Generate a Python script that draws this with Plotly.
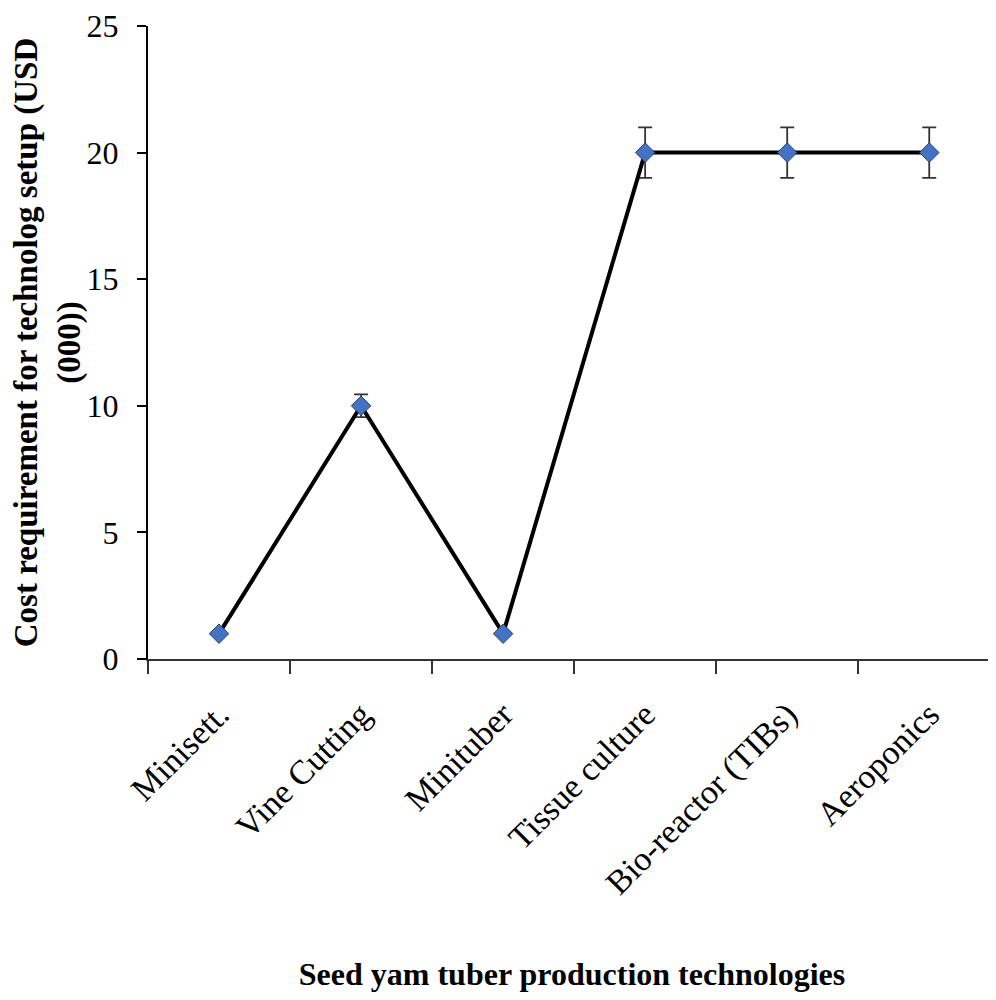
import plotly.graph_objects as go

categories = ["Minisett.", "Vine Cutting", "Minituber", "Tissue culture",
              "Bio-reactor (TIBs)", "Aeroponics"]
cost_values = [1, 10, 1, 20, 20, 20]
error_values = [0, 0.45, 0, 1, 1, 1]
y_ticks = [0, 5, 10, 15, 20, 25]

serif = "Liberation Serif, Times New Roman, serif"

fig = go.Figure()
fig.add_trace(go.Scatter(
    x=categories, y=cost_values,
    mode="lines+markers",
    line=dict(color="black", width=4),
    marker=dict(symbol="diamond", size=15, color="#4472C4",
                line=dict(color="#2F3F5F", width=1)),
    error_y=dict(type="data", array=error_values, visible=True,
                 color="#333333", thickness=1.8, width=7),
    showlegend=False,
))

fig.update_layout(
    width=988, height=984,
    margin=dict(l=140, r=0, t=18, b=333),
    paper_bgcolor="white", plot_bgcolor="white",
    font=dict(family=serif, color="black"),
    xaxis=dict(
        type="category",
        range=[-0.5, 5.47],
        showline=True, linecolor="#333333", linewidth=2,
        ticks="outside", tickson="boundaries", ticklen=13,
        tickcolor="#333333", tickwidth=1.5,
        tickangle=-45,
        tickfont=dict(family=serif, size=34, color="black"),
        ticklabelstandoff=20,
        showgrid=False, zeroline=False,
        title=dict(text="<b>Seed yam tuber production technologies</b>",
                   font=dict(family=serif, size=32, color="black"),
                   standoff=62),
    ),
    yaxis=dict(
        range=[0, 25],
        tickvals=y_ticks,
        showline=True, linecolor="black", linewidth=2,
        ticks="outside", ticklen=9, tickcolor="black", tickwidth=1.5,
        tickfont=dict(family=serif, size=32, color="black"),
        ticklabelstandoff=12,
        ticklabeloverflow="allow",
        automargin="left+right",
        showgrid=False, zeroline=False,
        title=dict(text="<b>Cost requirement for technolog setup (USD<br>(000))</b>",
                   font=dict(family=serif, size=33, color="black"),
                   standoff=10),
    ),
)

fig.write_html("out.html")
